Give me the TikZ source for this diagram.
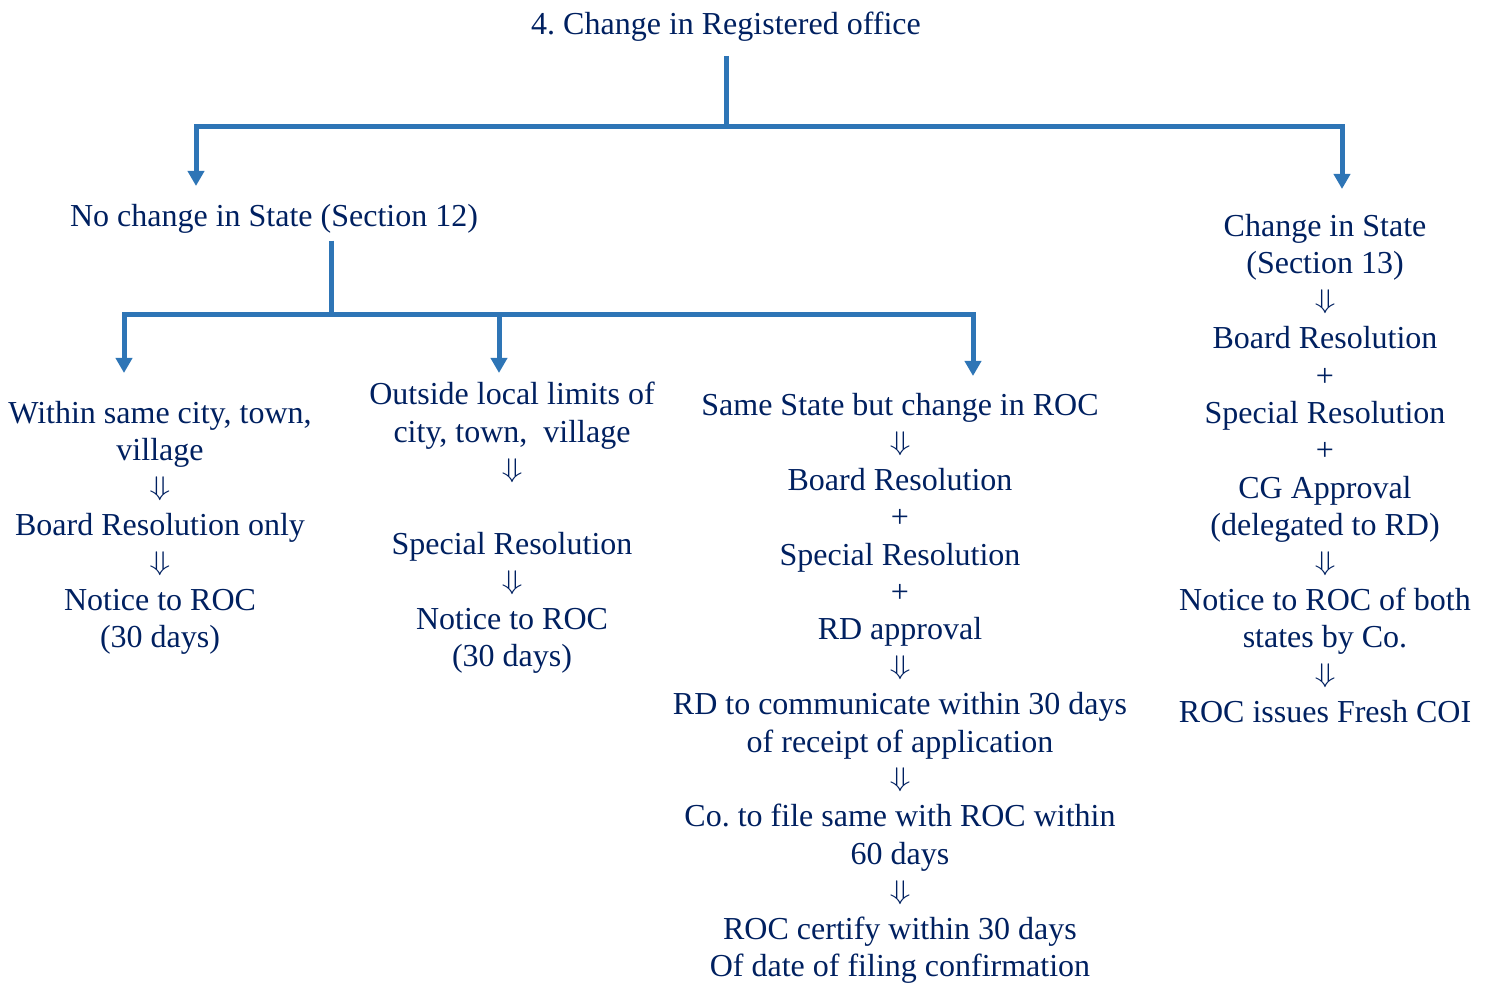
\documentclass[tikz,border=0pt]{standalone}
\usepackage{fontspec}
\setmainfont{Liberation Serif}[Ligatures=CommonOff]
\usepackage{xcolor}
\usetikzlibrary{arrows.meta}
\definecolor{navy}{HTML}{002060}
\definecolor{lineblue}{HTML}{2E75B6}
\newcommand{\dn}{\raisebox{2.5pt}{\resizebox*{21pt}{24pt}{$\Downarrow$}}}

\begin{document}
\begin{tikzpicture}[x=1pt, y=1pt,
  branch/.style={draw=lineblue, line width=5pt},
  arr/.style={branch, -{Triangle[width=16pt, length=15pt]}}]
\useasboundingbox (0,0) rectangle (1489,-984);
\tikzstyle{every node} = [text=navy, font=\fontsize{32}{37.4}\selectfont\frenchspacing, align=center, inner sep=0pt, anchor=north]
\node (title) at (726,-12) {4. Change in Registered office};
\node (nochange) at (274,-204) {No change in State (Section 12)};
\node (samecity) at (160,-401) {Within same city, town,\\ village\\ \dn\\ Board Resolution only\\ \dn\\ Notice to ROC\\ (30 days)};
\node (outside) at (512,-382) {Outside local limits of\\ city, town,~~village\\ \dn\\ \mbox{}\\ Special Resolution\\ \dn\\ Notice to ROC\\ (30 days)};
\node (samestate) at (900,-393) {Same State but change in ROC\\ \dn\\ Board Resolution\\ +\\ Special Resolution\\ +\\ RD approval\\ \dn\\ RD to communicate within 30 days\\ of receipt of application\\ \dn\\ Co. to file same with ROC within\\ 60 days\\ \dn\\ ROC certify within 30 days\\ Of date of filing confirmation};
\node (newstate) at (1325,-214) {Change in State\\ (Section 13)\\ \dn\\ Board Resolution\\ +\\ Special Resolution\\ +\\ CG Approval\\ (delegated to RD)\\ \dn\\ Notice to ROC of both\\ states by Co.\\ \dn\\ ROC issues Fresh COI};
\coordinate (j0) at (726,-127);
\coordinate (a1) at (196,-186);
\coordinate (a2) at (1342,-189);
\coordinate (j1) at (331,-315);
\coordinate (b1) at (124,-373);
\coordinate (b2) at (499,-373);
\coordinate (b3) at (973,-376);
\draw[branch, shorten <=14pt] (title.south) -- (j0);
\draw[arr] (j0) -| (a1);
\draw[arr] (j0) -| (a2);
\draw[branch, shorten <=7pt] (nochange.south -| j1) -- (j1);
\draw[arr] (j1) -| (b1);
\draw[arr] (j1) -| (b2);
\draw[arr] (j1) -| (b3);
\end{tikzpicture}
\end{document}
